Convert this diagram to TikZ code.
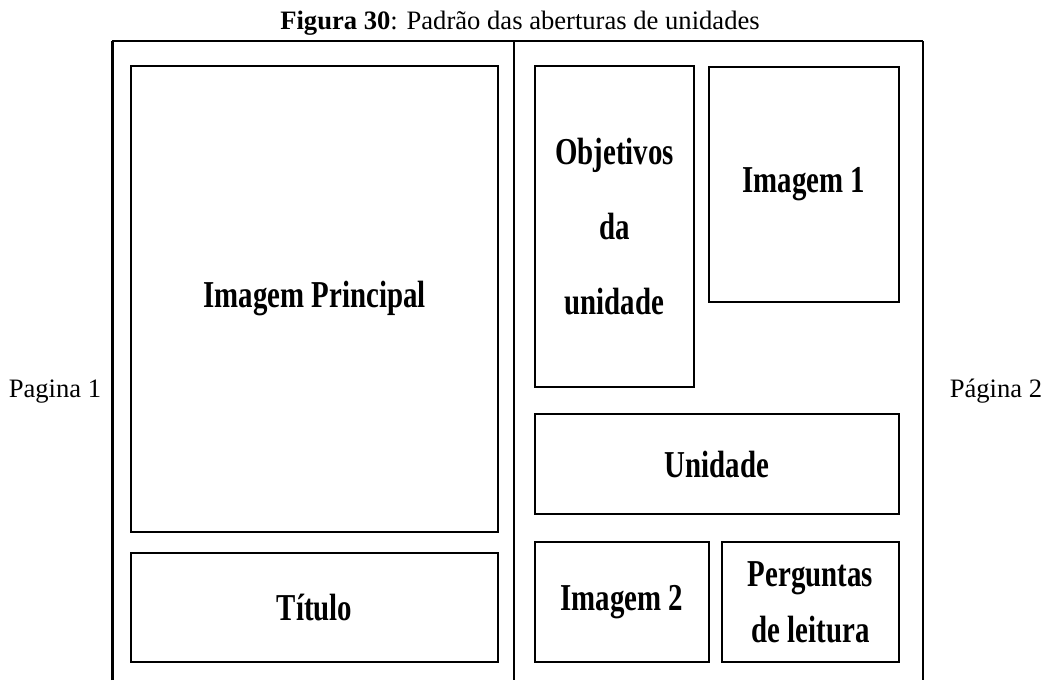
\documentclass[tikz,border=0pt]{standalone}
\usepackage{fontspec}
\setmainfont{Liberation Serif}
\newfontfamily\boxfont{Liberation Serif}[FakeStretch=0.76]
\usetikzlibrary{positioning}
\tikzset{
x=0.5pt, y=-0.5pt, % one unit is one pixel of the page
bloco/.style={draw, line width=0.9pt, align=center, inner sep=0pt, font=\boxfont\bfseries\fontsize{19}{37.5}\selectfont}, % the boxes of the layout
moldura/.style={line width=0.8pt}, % the page frame
rotulo/.style={font=\fontsize{13.3}{16}\selectfont, anchor=base}, % page names and caption
}
\begin{document}
\begin{tikzpicture}
                \useasboundingbox (0,0) rectangle (1047,680);
                \coordinate (tl) at (112,41);
                \coordinate (bl) at (112,680);
                \coordinate (tm) at (514,41);
                \coordinate (bm) at (514,680);
                \coordinate (tr) at (923,41);
                \coordinate (br) at (923,680);
                \draw[moldura, line width=1.5pt] (bl) -- (tl);
                \draw[moldura, line width=1pt] (tl) -- (tr);
                \draw[moldura] (tm) -- (bm);
                \draw[moldura] (tr) -- (br);
                \node[rotulo] (legenda) at (520,29) {\textbf{Figura 30}: Padrão das aberturas de unidades};
                \node[rotulo] (pag1) at (55,397) {Pagina 1};
                \node[rotulo] (pag2) at (996,397) {Página 2};
                % pagina 1
                \node[bloco, minimum width=183.5pt, minimum height=233pt] (principal) at (314.5,299) {Imagem Principal};
                \node[bloco, minimum width=183.5pt, minimum height=54.5pt] (titulo) at (314.5,607.5) {Título};
                % pagina 2
                \node[bloco, minimum width=79.5pt, minimum height=160.5pt] (objetivos) at (614.5,226.5) {Objetivos\\da\\unidade};
                \node[bloco, minimum width=95pt, minimum height=117.5pt] (imagem1) at (804,184.5) {Imagem 1};
                \node[bloco, minimum width=182pt, minimum height=50pt] (unidade) at (717,464) {Unidade};
                \node[bloco, minimum width=87pt, minimum height=60pt] (imagem2) at (622,602) {Imagem 2};
                \node[bloco, minimum width=88.5pt, minimum height=60pt, font=\boxfont\bfseries\fontsize{19}{28}\selectfont] (perguntas) at (810.5,602) {Perguntas\\de leitura};
                \end{tikzpicture}
\end{document}
